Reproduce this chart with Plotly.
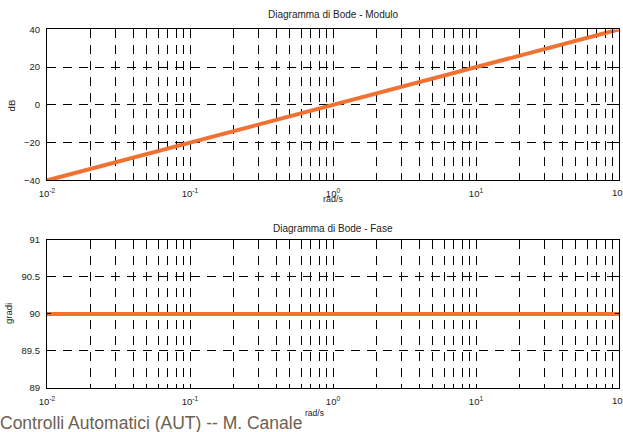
import plotly.graph_objects as go

# Data
omega = [0.01, 0.1, 1, 10, 100]          # rad/s
modulo_db = [-40, -20, 0, 20, 40]        # dB
fase_deg = [90, 90, 90, 90, 90]          # gradi

x_tickvals = [m * 10 ** e for e in (-2, -1, 0, 1) for m in range(1, 10)] + [100]
x_ticktext = ["10<sup>%d</sup>" % e if m == 1 else "" for e in (-2, -1, 0, 1) for m in range(1, 10)] + [""]
last_label = "10<sup>2</sup>"
mod_ticks = [-40, -20, 0, 20, 40]
fase_ticks = [89, 89.5, 90, 90.5, 91]
fase_ticktext = ["89", "89.5", "90", "90.5", "91"]

W, H = 623, 432
L, R = 47, 4
FONT = "Liberation Sans, Arial, sans-serif"
ORANGE = "#F07232"
TXT = "#222222"

def py(px):
    return 1 - px / H

def pxx(px):
    return (px - L) / (W - L - R)

fig = go.Figure()
fig.add_trace(go.Scatter(x=omega, y=modulo_db, mode="lines",
                         line=dict(color=ORANGE, width=4), xaxis="x", yaxis="y",
                         showlegend=False))
fig.add_trace(go.Scatter(x=omega, y=fase_deg, mode="lines",
                         line=dict(color=ORANGE, width=4), xaxis="x2", yaxis="y2",
                         showlegend=False))

common_x = dict(type="log", range=[-2, 2], tickmode="array", tickvals=x_tickvals,
                ticktext=x_ticktext, ticks="inside", ticklen=4, tickwidth=1,
                tickcolor="#000", showline=True, linecolor="#000", linewidth=1.2,
                mirror="ticks", showgrid=True, gridcolor="#000", gridwidth=1,
                griddash="9px,7px", zeroline=False, ticklabelstandoff=4,
                tickfont=dict(family=FONT, size=9.5, color=TXT))
common_y = dict(ticks="inside", ticklen=4, tickwidth=1, tickcolor="#000",
                showline=True, linecolor="#000", linewidth=1.2, mirror="ticks",
                showgrid=True, gridcolor="#000", gridwidth=1, griddash="9px,7px",
                zeroline=False, ticklabelstandoff=4,
                tickfont=dict(family=FONT, size=9.5, color=TXT))

def ann(text, x, y, size=9.5, color=TXT, angle=0, xanchor="center"):
    return dict(text=text, x=pxx(x), y=py(y), xref="paper", yref="paper",
                xanchor=xanchor, yanchor="middle", textangle=angle,
                showarrow=False, font=dict(family=FONT, size=size, color=color))

def edge_label(xref, yref):
    return dict(text=last_label, x=2, y=0, xref=xref, yref=yref + " domain",
                xanchor="center", yanchor="top", yshift=-4, showarrow=False,
                font=dict(family=FONT, size=9.5, color=TXT))

fig.update_layout(
    width=W, height=H,
    margin=dict(l=L, r=R, t=0, b=0),
    paper_bgcolor="white", plot_bgcolor="white",
    xaxis=dict(common_x, domain=[0, 1], anchor="y"),
    yaxis=dict(common_y, domain=[py(179), py(24)], range=[-40, 40],
               tickmode="array", tickvals=mod_ticks, anchor="x"),
    xaxis2=dict(common_x, domain=[0, 1], anchor="y2"),
    yaxis2=dict(common_y, domain=[py(392), py(240)], range=[89, 91],
                tickmode="array", tickvals=fase_ticks, ticktext=fase_ticktext,
                anchor="x2"),
    annotations=[
        ann("Diagramma di Bode - Modulo", 333, 9, size=10),
        ann("Diagramma di Bode - Fase", 333, 228, size=10),
        ann("rad/s", 333, 198, size=9),
        ann("dB", 11, 102, size=9.5, angle=-90),
        ann("gradi", 9, 316, size=9.5, angle=-90),
        ann("Controlli Automatici (AUT) -- M. Canale", -2, 428, size=17.5,
            color="#6E6050", xanchor="left"),
        ann("rad/s", 303, 418, size=8.5, xanchor="left"),
        edge_label("x", "y"),
        edge_label("x2", "y2"),
    ],
)

fig.write_html("out.html")
